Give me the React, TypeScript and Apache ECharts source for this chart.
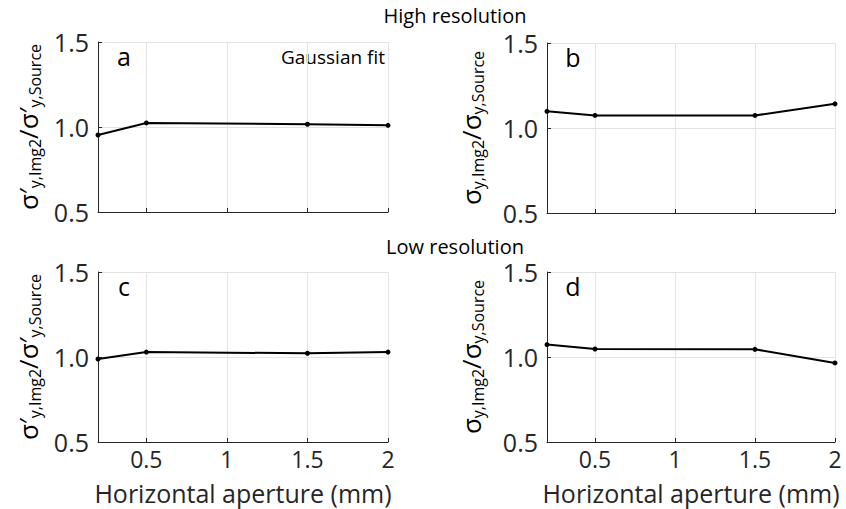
import React, { useEffect, useRef } from "react";
import * as echarts from "echarts";

const apertures = [0.2, 0.5, 1.5, 2];
const seriesA = [0.953, 1.024, 1.016, 1.01];
const seriesB = [1.098, 1.074, 1.074, 1.142];
const seriesC = [0.988, 1.029, 1.022, 1.029];
const seriesD = [1.073, 1.047, 1.045, 0.965];
const xTicks = [0.5, 1, 1.5, 2];
const panelLetters = ["a", "b", "c", "d"];
const rowTitles = ["High resolution", "Low resolution"];
const FONT = "Open Sans";

const primeName = "{s|σ′}{sub|y,Img2}{s|/σ′}{sub|y,Source}";
const plainName = "{s|σ}{sub|y,Img2}{s|/σ}{sub|y,Source}";

export default function App() {
  const ref = useRef<HTMLDivElement>(null);
  useEffect(() => {
    const chart = echarts.init(ref.current!, null, { renderer: "svg" });
    const grids = [
      { left: 98, top: 42, width: 290, height: 170 },
      { left: 547, top: 43, width: 288, height: 170 },
      { left: 98, top: 272, width: 290, height: 170 },
      { left: 547, top: 272, width: 288, height: 170 },
    ];
    const data = [seriesA, seriesB, seriesC, seriesD];
    const axisColor = "#262626";
    const xAxes = grids.map((_, i) => ({
      type: "value",
      gridIndex: i,
      min: 0.2,
      max: 2,
      axisLine: { lineStyle: { color: axisColor, width: 1 } },
      axisTick: { show: true, inside: true, length: 4, customValues: xTicks, lineStyle: { color: axisColor } },
      axisLabel: {
        show: i >= 2,
        customValues: xTicks,
        fontFamily: FONT,
        fontSize: 23,
        lineHeight: 23,
        color: "#262626",
        margin: 5,
      },
      splitLine: { show: true, lineStyle: { color: "#e3e3e3", width: 1 } },
      name: i >= 2 ? "Horizontal aperture (mm)" : "",
      nameLocation: "middle",
      nameGap: 38,
      nameTextStyle: { fontFamily: FONT, fontSize: 25, lineHeight: 25, color: "#262626" },
    }));
    const yAxes = grids.map((_, i) => {
      const prime = i % 2 === 0;
      return {
        type: "value",
        gridIndex: i,
        min: 0.5,
        max: 1.5,
        interval: 0.5,
        axisLine: { show: true, lineStyle: { color: axisColor, width: 1 } },
        axisTick: { show: true, inside: true, length: 4, lineStyle: { color: axisColor } },
        axisLabel: {
          fontFamily: FONT,
          fontSize: 25,
          color: "#262626",
          margin: 9,
          formatter: (v: number) => v.toFixed(1),
        },
        splitLine: { show: true, lineStyle: { color: "#e3e3e3", width: 1 } },
        name: prime ? primeName : plainName,
        nameLocation: "middle",
        nameRotate: 90,
        nameGap: prime ? 55 : 61,
        nameTextStyle: {
          color: "#000",
          fontFamily: FONT,
          rich: {
            s: { fontFamily: FONT, fontSize: 26, lineHeight: 30, verticalAlign: "middle", color: "#000" },
            sub: { fontFamily: FONT, fontSize: 16, lineHeight: 14, verticalAlign: "bottom", color: "#000" },
          },
        },
      };
    });
    const series = data.map((vals, i) => ({
      type: "line",
      xAxisIndex: i,
      yAxisIndex: i,
      data: apertures.map((x, j) => [x, vals[j]]),
      symbol: "circle",
      symbolSize: 5,
      lineStyle: { color: "#000", width: 2 },
      itemStyle: { color: "#000" },
    }));
    const graphics: any[] = [];
    rowTitles.forEach((t, r) => {
      graphics.push({
        type: "text",
        x: 455,
        y: r === 0 ? 15 : 246,
        style: { text: t, font: `20px '${FONT}'`, fill: "#000", textAlign: "center", textVerticalAlign: "middle" },
      });
    });
    panelLetters.forEach((l, i) => {
      const g = grids[i];
      graphics.push({
        type: "text",
        x: g.left + 26,
        y: g.top + 14,
        style: { text: l, font: `25px '${FONT}'`, fill: "#000", textAlign: "center", textVerticalAlign: "middle" },
      });
    });
    graphics.push({
      type: "text",
      x: 385,
      y: 57,
      style: { text: "Gaussian fit", font: `19px '${FONT}'`, fill: "#000", textAlign: "right", textVerticalAlign: "middle" },
    });
    chart.setOption({
      animation: false,
      backgroundColor: "#fff",
      grid: grids,
      xAxis: xAxes,
      yAxis: yAxes,
      series,
      graphic: graphics,
    });
    return () => chart.dispose();
  }, []);
  return <div ref={ref} style={{ position: "fixed", left: 0, top: 0, width: 846, height: 509 }} />;
}
